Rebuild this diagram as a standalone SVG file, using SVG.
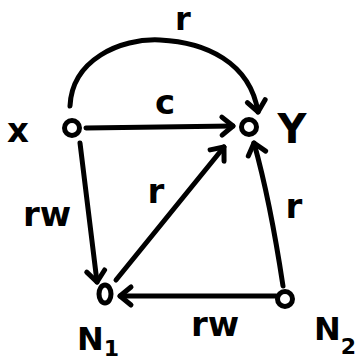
<svg xmlns="http://www.w3.org/2000/svg" width="363" height="364" viewBox="0 0 363 364">
<style>
.e{fill:none;stroke:#000;stroke-width:5;stroke-linecap:round;stroke-linejoin:round}
.n{fill:#fff;stroke:#000;stroke-width:5}
.t{font-family:"DejaVu Sans",sans-serif;font-weight:bold;fill:#000}
</style>
<defs>
<marker id="a" markerUnits="userSpaceOnUse" markerWidth="30" markerHeight="30" refX="16" refY="15" orient="auto">
<path d="M5,6 L16,15 L5,24" fill="none" stroke="#000" stroke-width="5" stroke-linecap="round" stroke-linejoin="round"/>
</marker>
</defs>
<rect width="363" height="364" fill="#fff"/>
<g id="connectors">
<path class="e" d="M70,106 C72,60 120,38 160,40 C205,42 250,62 258,112" marker-end="url(#a)"/>
<path class="e" d="M86,128 L233,126" marker-end="url(#a)"/>
<path class="e" d="M80,143 L97,282" marker-end="url(#a)"/>
<path class="e" d="M116,280 L224,147" marker-end="url(#a)"/>
<path class="e" d="M283,286 Q270,200 254,143" marker-end="url(#a)"/>
<path class="e" d="M276,296 L120,296" marker-end="url(#a)"/>
</g>
<g id="x"><circle class="n" cx="72" cy="128" r="7.5"/><text class="t" x="18" y="142" font-size="34" text-anchor="middle">x</text></g>
<g id="y"><circle class="n" cx="249" cy="127" r="7.5"/><text class="t" x="292" y="143" font-size="40" text-anchor="middle">Y</text></g>
<g id="n1"><ellipse class="n" cx="105" cy="294" rx="6" ry="9"/><text class="t" x="77" y="350" font-size="32">N<tspan font-size="22" dy="6">1</tspan></text></g>
<g id="n2"><circle class="n" cx="285" cy="299" r="7.5"/><text class="t" x="314" y="340" font-size="32">N<tspan font-size="22" dy="14">2</tspan></text></g>
<g id="labels">
<text class="t" x="183" y="30" font-size="32" text-anchor="middle">r</text>
<text class="t" x="165" y="114" font-size="34" text-anchor="middle">c</text>
<text class="t" x="47" y="226" font-size="34" text-anchor="middle">rw</text>
<text class="t" x="156" y="203" font-size="34" text-anchor="middle">r</text>
<text class="t" x="294" y="218" font-size="34" text-anchor="middle">r</text>
<text class="t" x="215" y="336" font-size="34" text-anchor="middle">rw</text>
</g>
</svg>
